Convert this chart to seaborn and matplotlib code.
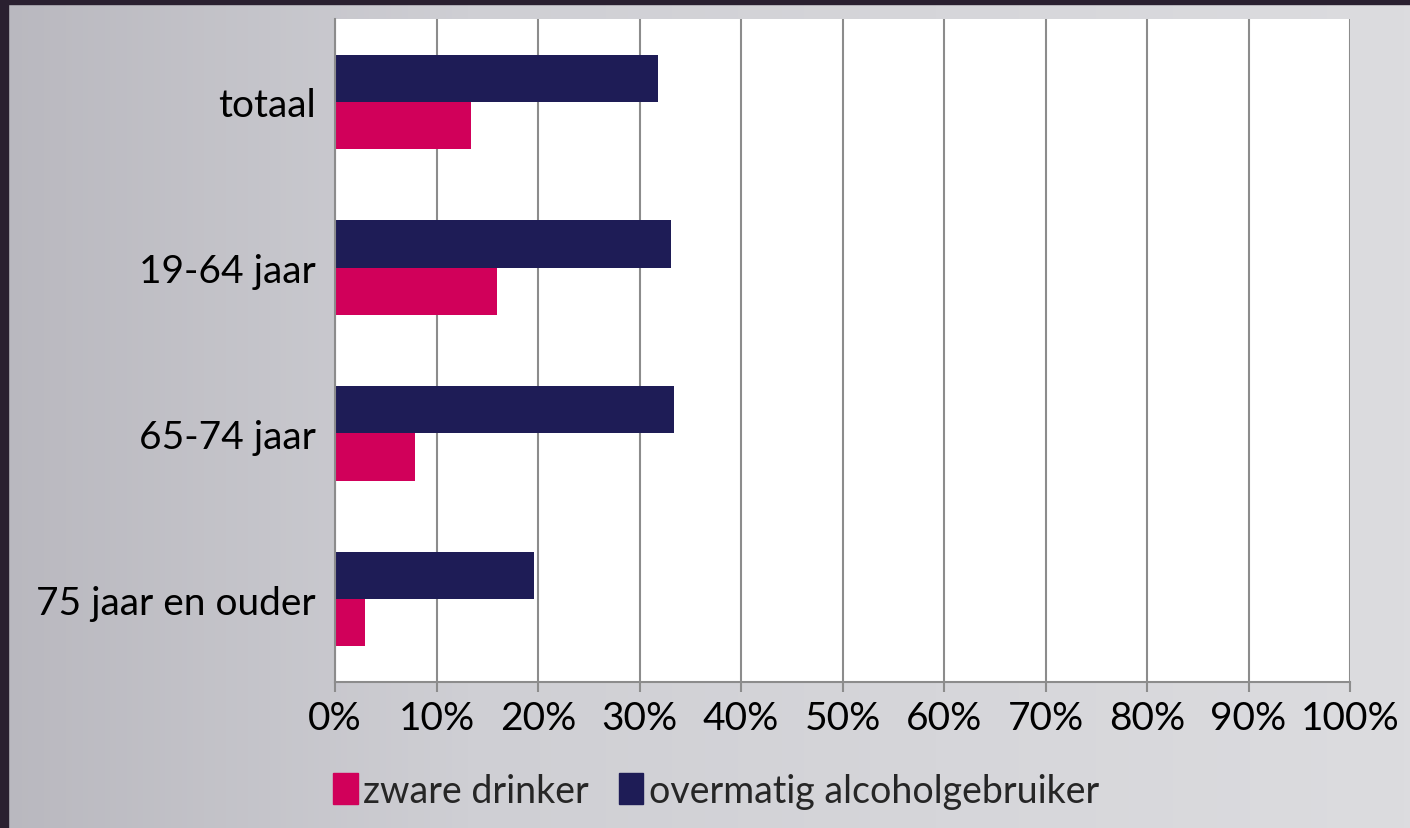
import numpy as np
import pandas as pd
import matplotlib
matplotlib.use("Agg")
import matplotlib.pyplot as plt
import seaborn as sns
from matplotlib.patches import Patch
from matplotlib.ticker import PercentFormatter

# Data
categories = ["totaal", "19-64 jaar", "65-74 jaar", "75 jaar en ouder"]
zware_drinker = [13.4, 16.0, 7.9, 3.0]
overmatig = [31.8, 33.1, 33.4, 19.6]
series_names = ["zware drinker", "overmatig alcoholgebruiker"]
xticks = list(range(0, 101, 10))

pink = "#d1005a"
navy = "#1e1c56"

df = pd.DataFrame({
    "groep": categories * 2,
    "reeks": [series_names[1]] * 4 + [series_names[0]] * 4,
    "waarde": overmatig + zware_drinker,
})

sns.set_theme(style="white")
plt.rcParams["font.family"] = ["Lato", "DejaVu Sans"]

fig = plt.figure(figsize=(14.1, 8.29), dpi=100)
fig.patch.set_facecolor("#cfcfd4")

# soft background shading (stand-in for the photo)
grad = np.linspace(0, 1, 256).reshape(1, -1)
bg = fig.add_axes([0, 0, 1, 1], zorder=-10)
bg.imshow(grad, aspect="auto", cmap=matplotlib.colors.LinearSegmentedColormap.from_list(
    "bg", ["#b9b8bf", "#cfcfd4", "#d6d6da", "#dcdcdf"]), extent=[0, 1, 0, 1])
bg.axhspan(0.994, 1.0, color="#2a2030")
bg.axvspan(0, 0.006, color="#2a2030")
bg.set_xlim(0, 1)
bg.set_ylim(0, 1)
bg.axis("off")

ax = fig.add_axes([335 / 1410, 1 - 683 / 829, 1015 / 1410, 663 / 829])
ax.set_facecolor("white")

sns.barplot(data=df, y="groep", x="waarde", hue="reeks",
            hue_order=[series_names[1], series_names[0]],
            order=categories, palette=[navy, pink], width=0.57,
            saturation=1, orient="h", ax=ax, legend=False,
            linewidth=0, edgecolor="none")

ax.set_xlim(0, 100)
ax.set_ylim(3.5, -0.5)
ax.set_xticks(xticks)
ax.xaxis.set_major_formatter(PercentFormatter(decimals=0))
ax.set_xlabel("")
ax.set_ylabel("")

ax.grid(axis="x", color="#8c8c8c", linewidth=1.5)
ax.set_axisbelow(True)
for s in ["top", "right"]:
    ax.spines[s].set_visible(False)
for s in ["left", "bottom"]:
    ax.spines[s].set_color("#8c8c8c")
    ax.spines[s].set_linewidth(1.5)

ax.set_yticks(np.arange(-0.5, 4.0, 1.0), minor=True)
ax.tick_params(axis="y", which="major", length=0, pad=14, labelsize=28, labelcolor="black")
ax.tick_params(axis="y", which="minor", length=8, width=1.5, color="#8c8c8c", direction="out")
ax.tick_params(axis="x", which="major", length=7, width=1.5, color="#8c8c8c",
               direction="out", pad=6, labelsize=28, labelcolor="black")
ax.tick_params(bottom=True, left=False)

handles = [Patch(color=pink, label=series_names[0]), Patch(color=navy, label=series_names[1])]
fig.legend(handles=handles, loc="center", bbox_to_anchor=(0.508, 0.045), ncol=2,
           frameon=False, fontsize=27, handlelength=0.65, handleheight=0.9,
           handletextpad=0.15, columnspacing=0.8)

fig.savefig("out.png", dpi=100, facecolor=fig.get_facecolor())
